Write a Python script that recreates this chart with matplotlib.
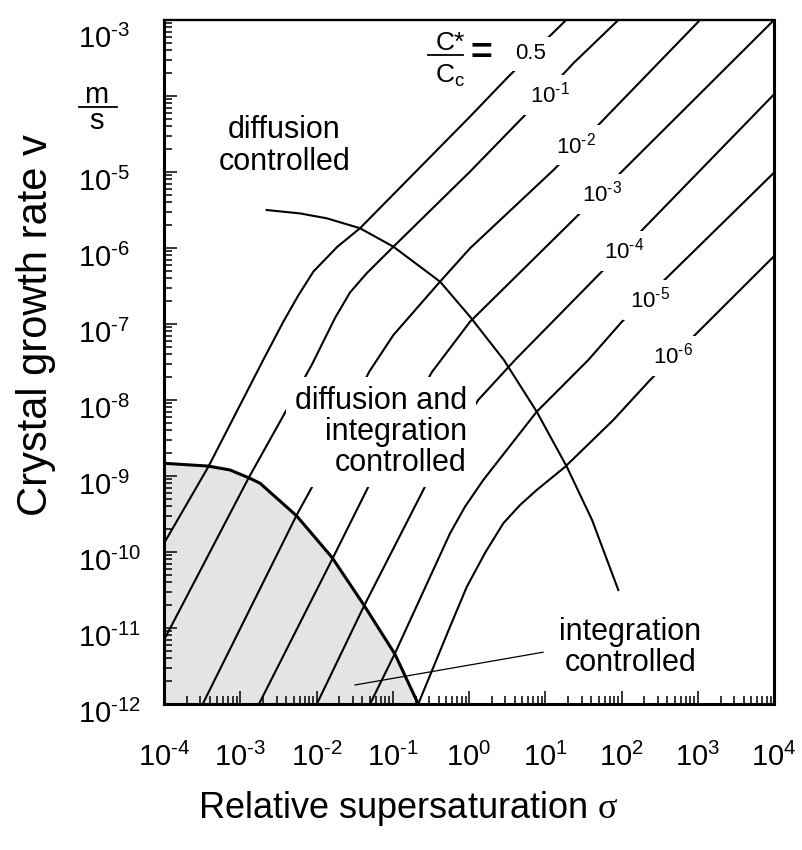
import numpy as np
import matplotlib
matplotlib.use("Agg")
import matplotlib.pyplot as plt
from matplotlib.lines import Line2D
from matplotlib.transforms import ScaledTranslation
from matplotlib.ticker import FixedLocator, FuncFormatter, LogLocator, NullFormatter

plt.rcParams["font.family"] = ["Liberation Sans", "DejaVu Sans"]
plt.rcParams["mathtext.fontset"] = "custom"
plt.rcParams["mathtext.rm"] = "Liberation Sans"
plt.rcParams["mathtext.it"] = "Liberation Sans:italic"
plt.rcParams["mathtext.bf"] = "Liberation Sans:bold"
plt.rcParams["mathtext.sf"] = "Liberation Serif"
plt.rcParams["mathtext.default"] = "regular"

HY = "\u2010"  # short hyphen used in the exponents


def power_label(e):
    sign = HY if e < 0 else ""
    return "$10^{%s%d}$" % (sign, abs(e))


# ---- growth-rate curves for different solubility ratios C*/Cc ----
ratio_exponents = [None, -1, -2, -3, -4, -5, -6]
ratio_labels = ["0.5"] + [power_label(e) for e in ratio_exponents[1:]]

sigma_r05 = [1.0e-4, 3.81e-4, 2.0e-3, 3.67e-3, 5.71e-3, 9.08e-3, 1.86e-2, 3.72e-2, 1.03, 3.27, 18.8]
v_r05 = [1.30e-10, 1.32e-9, 3.36e-8, 1.07e-7, 2.33e-7, 4.88e-7, 1.03e-6, 1.82e-6, 5.35e-5, 1.79e-4, 1.0e-3]

sigma_r1 = [1.0e-4, 1.28e-3, 3.32e-3, 8.65e-3, 1.75e-2, 2.75e-2, 4.55e-2, 0.102, 1.03, 5.71, 23.3, 91.0]
v_r1 = [6.95e-12, 9.33e-10, 5.18e-9, 2.89e-8, 1.20e-7, 2.60e-7, 4.65e-7, 1.04e-6, 1.01e-5, 5.91e-5, 2.69e-4, 1.0e-3]

sigma_r2 = [3.22e-4, 5.50e-3, 9.55e-3, 4.89e-2, 0.102, 0.417, 1.03, 12.8, 52.2, 1070.0]
v_r2 = [1.0e-12, 3.07e-10, 8.41e-10, 2.34e-8, 7.16e-8, 3.61e-7, 9.9e-7, 1.06e-5, 4.37e-5, 1.0e-3]

sigma_r3 = [1.76e-3, 1.63e-2, 5.04e-2, 0.327, 1.03, 24.5, 1.0e4]
v_r3 = [1.0e-12, 8.26e-11, 8.02e-10, 2.34e-8, 1.07e-7, 2.46e-6, 1.0e-3]

sigma_r4 = [1.01e-2, 4.2e-2, 0.279, 1.32, 4.01, 55.0, 1.0e4]
v_r4 = [1.0e-12, 1.95e-11, 8.02e-10, 1.0e-8, 3.36e-8, 4.88e-7, 1.05e-4]

sigma_r5 = [5.04e-2, 0.107, 0.564, 0.887, 1.54, 7.73, 36.7, 101.0, 1.0e4]
v_r5 = [1.0e-12, 4.65e-12, 1.76e-10, 3.95e-10, 8.86e-10, 7.02e-9, 3.36e-8, 1.07e-7, 9.8e-6]

sigma_r6 = [0.216, 0.564, 0.933, 1.62, 2.82, 4.67, 7.73, 18.2, 78.2, 237.0, 1016.0, 1.0e4]
v_r6 = [1.0e-12, 1.04e-11, 3.46e-11, 9.7e-11, 2.39e-10, 4.15e-10, 6.54e-10, 1.32e-9, 5.46e-9,
        1.83e-8, 7.92e-8, 7.8e-7]

# ---- limit of the diffusion-controlled regime ----
sigma_diff = [2.22e-3, 6.1e-3, 1.36e-2, 3.72e-2, 0.102, 0.417, 1.03, 2.87, 7.73, 19.2, 41.1, 90.8]
v_diff = [3.16e-6, 2.85e-6, 2.46e-6, 1.82e-6, 1.04e-6, 3.61e-7, 1.25e-7, 3.36e-8,
          7.02e-9, 1.32e-9, 2.64e-10, 3.16e-11]

# ---- limit of the integration-controlled regime (shaded) ----
sigma_int = [1.0e-4, 3.81e-4, 7.34e-4, 1.34e-3, 1.82e-3, 5.50e-3, 1.60e-2, 4.15e-2, 0.107, 0.216]
v_int = [1.47e-9, 1.35e-9, 1.20e-9, 9.33e-10, 8.02e-10, 2.98e-10, 8.47e-11, 2.03e-11, 4.52e-12, 1.0e-12]

x_decades = np.arange(-4, 5)
y_decades = np.arange(-12, -2)

curves = [(sigma_r05, v_r05), (sigma_r1, v_r1), (sigma_r2, v_r2), (sigma_r3, v_r3),
          (sigma_r4, v_r4), (sigma_r5, v_r5), (sigma_r6, v_r6)]

# label anchor points on the curves (sigma, v)
label_pos = [(6.5, 3.57e-4), (11.5, 1.03e-4), (25.3, 2.26e-5), (55.5, 5.14e-6),
             (108.0, 9.14e-7), (237.0, 2.07e-7), (473.0, 3.79e-8)]

fig = plt.figure(figsize=(8.02, 8.5), dpi=100)
ax = fig.add_axes([164 / 802, 146 / 850, 610 / 802, 684 / 850])
ax.set_xscale("log")
ax.set_yscale("log")
ax.set_xlim(1e-4, 1e4)
ax.set_ylim(1e-12, 1e-3)

# shaded integration-controlled area
ax.fill_between(sigma_int, v_int, 1e-12, color="#e4e4e4", lw=0, zorder=1)
ax.plot(sigma_int, v_int, color="black", lw=2.2, zorder=3, solid_capstyle="butt")

for s, v in curves:
    ax.plot(s, v, color="black", lw=1.5, zorder=2)

ax.plot(sigma_diff, v_diff, color="black", lw=1.5, zorder=2)

white_box = dict(boxstyle="square,pad=0.3", fc="white", ec="none")
for (sx, sy), lab in zip(label_pos, ratio_labels):
    ax.text(sx, sy, lab, fontsize=16, ha="center", va="center", zorder=5,
            bbox=white_box)

# ratio heading C*/Cc =
ax.text(0.470, 0.956, "C*", transform=ax.transAxes, fontsize=19,
        ha="center", va="baseline", zorder=5)
ax.text(0.469, 0.908, "$C_c$", transform=ax.transAxes, fontsize=19,
        ha="center", va="baseline", zorder=5)
ax.add_line(Line2D([0.433, 0.490], [0.949, 0.949], transform=ax.transAxes,
                   color="black", lw=1.3, zorder=5))
ax.text(0.521, 0.935, "=", transform=ax.transAxes, fontsize=27,
        fontweight="bold", ha="center", va="baseline", zorder=5)

# region labels
ax.text(3.8e-3, 2.2e-5, "diffusion\ncontrolled", fontsize=22, ha="center",
        va="center", linespacing=1.05, zorder=5)
ax.text(0.94, 3.8e-9, "diffusion and\nintegration\ncontrolled", fontsize=22,
        ha="right", va="center", multialignment="right", linespacing=1.05,
        zorder=5, bbox=white_box)
ax.text(131.0, 5.5e-12, "integration\ncontrolled", fontsize=22, ha="center",
        va="center", linespacing=1.05, zorder=5)
ax.plot([3.2e-2, 9.35], [1.78e-12, 4.8e-12], color="black", lw=0.9, zorder=4)

# axes frame and ticks
for sp in ax.spines.values():
    sp.set_linewidth(2.2)
    sp.set_zorder(6)
ax.spines["top"].set_linewidth(1.7)

ax.xaxis.set_major_locator(FixedLocator(10.0 ** x_decades))
ax.yaxis.set_major_locator(FixedLocator(10.0 ** y_decades))
ax.xaxis.set_minor_locator(LogLocator(base=10, subs=np.arange(2, 10), numticks=30))
ax.yaxis.set_minor_locator(LogLocator(base=10, subs=np.arange(2, 10), numticks=30))
ax.xaxis.set_minor_formatter(NullFormatter())
ax.yaxis.set_minor_formatter(NullFormatter())


def x_fmt(val, pos):
    return power_label(int(round(np.log10(val))))


def y_fmt(val, pos):
    e = int(round(np.log10(val)))
    if e == -4:
        return ""
    return power_label(e)


ax.xaxis.set_major_formatter(FuncFormatter(x_fmt))
ax.yaxis.set_major_formatter(FuncFormatter(y_fmt))
ax.tick_params(which="both", direction="in", top=False, right=False,
               width=1.1, labelsize=21)
ax.tick_params(which="major", length=9.5)
ax.tick_params(which="minor", length=6)
ax.tick_params(axis="x", pad=28)
ax.tick_params(axis="y", pad=62)

# y tick labels: left aligned, sitting slightly below their ticks
top_exp = int(y_decades[-1])
for loc, tick in zip(ax.yaxis.get_majorticklocs(), ax.yaxis.get_major_ticks()):
    drop = 16 if int(round(np.log10(loc))) == top_exp else 7
    tick.label1.set_horizontalalignment("left")
    tick.label1.set_transform(tick.label1.get_transform()
                              + ScaledTranslation(0, -drop / 100, fig.dpi_scale_trans))

# unit m/s next to the y axis
ax.text(-0.1115, 0.871, "m\ns", transform=ax.transAxes, fontsize=21,
        ha="center", va="center", multialignment="center", linespacing=0.89)
ax.add_line(Line2D([-0.139, -0.077], [0.873, 0.873], transform=ax.transAxes,
                   color="black", lw=1.3, clip_on=False))

ax.set_ylabel("Crystal growth rate v", fontsize=30)
ax.yaxis.set_label_coords(-0.177, 0.554)
ax.set_xlabel("Relative supersaturation $\\mathsf{\\sigma}$", fontsize=26)
ax.xaxis.set_label_coords(0.40, -0.124)

fig.savefig("out.png", dpi=100)
